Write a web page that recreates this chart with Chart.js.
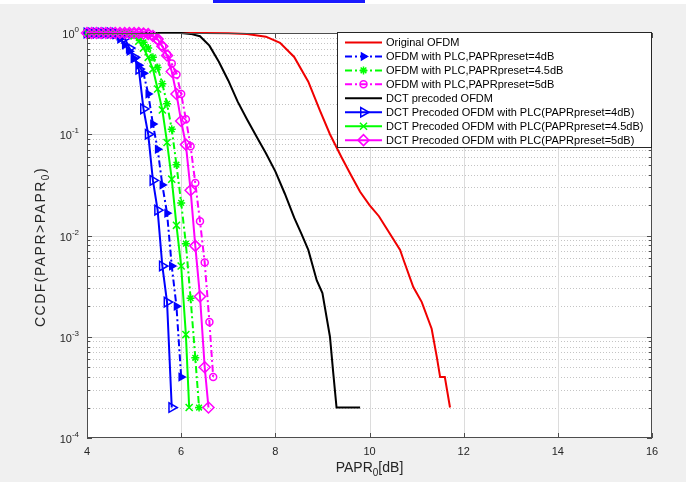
<!DOCTYPE html>
<html>
<head>
<meta charset="utf-8">
<script src="https://cdn.jsdelivr.net/npm/chart.js@4.4.1/dist/chart.umd.min.js"></script>
<style>
html, body { margin: 0; padding: 0; background: #f0f0f0; }
canvas { display: block; }
</style>
</head>
<body>
<canvas id="ccdfChart" width="686" height="482"></canvas>
<script>
// values (PAPR0 in dB, CCDF)
var origX = [4, 6.5, 7.0, 7.4, 7.8, 8.1, 8.4, 8.7, 8.95, 9.16, 9.4, 9.6, 9.8, 10.0, 10.2, 10.4, 10.65, 10.72, 10.93, 11.11, 11.32, 11.43, 11.5, 11.6, 11.71];
var origY = [1, 1, 0.995, 0.98, 0.92, 0.8, 0.58, 0.33, 0.17, 0.1, 0.06, 0.04, 0.027, 0.02, 0.0155, 0.011, 0.0072, 0.0058, 0.0031, 0.0022, 0.0012, 0.00063, 0.0004, 0.0004, 0.0002];

var dctX = [4, 5.8, 6.0, 6.2, 6.4, 6.6, 6.8, 7.0, 7.2, 7.4, 7.6, 7.8, 8.0, 8.2, 8.4, 8.55, 8.7, 8.88, 9.0, 9.16, 9.23, 9.3, 9.8];
var dctY = [1, 1, 0.998, 0.98, 0.93, 0.75, 0.52, 0.34, 0.21, 0.14, 0.095, 0.065, 0.043, 0.026, 0.015, 0.0105, 0.0072, 0.0036, 0.0027, 0.001, 0.00044, 0.0002, 0.0002];

var plc4X = [4.0, 4.1, 4.2, 4.3, 4.4, 4.5, 4.6, 4.7, 4.8, 4.9, 5.0, 5.1, 5.2, 5.3, 5.4, 5.5, 5.6, 5.7, 5.8, 5.9, 6.0];
var plc4Y = [1, 1, 1, 1, 1, 1, 0.955, 0.87, 0.76, 0.66, 0.56, 0.48, 0.4, 0.25, 0.126, 0.071, 0.0316, 0.0166, 0.005, 0.002, 0.0004];

var plc45X = [4.0, 4.1, 4.2, 4.3, 4.4, 4.5, 4.6, 4.7, 4.8, 4.9, 5.0, 5.1, 5.2, 5.3, 5.4, 5.5, 5.6, 5.7, 5.8, 5.9, 6.0, 6.1, 6.2, 6.3, 6.38];
var plc45Y = [1, 1, 1, 1, 1, 1, 1, 1, 1, 1, 0.955, 0.89, 0.81, 0.71, 0.575, 0.457, 0.316, 0.2, 0.112, 0.05, 0.021, 0.0083, 0.0024, 0.00062, 0.0002];

var plc5X = [4.0, 4.1, 4.2, 4.3, 4.4, 4.5, 4.6, 4.7, 4.8, 4.9, 5.0, 5.1, 5.2, 5.3, 5.4, 5.5, 5.6, 5.7, 5.8, 5.9, 6.0, 6.1, 6.2, 6.3, 6.4, 6.5, 6.6, 6.68];
var plc5Y = [1, 1, 1, 1, 1, 1, 1, 1, 1, 1, 1, 1, 1, 0.977, 0.933, 0.85, 0.74, 0.617, 0.5, 0.39, 0.25, 0.141, 0.076, 0.033, 0.0138, 0.0054, 0.0014, 0.0004];

var dctPlc4X = [4.0, 4.1, 4.2, 4.3, 4.4, 4.5, 4.6, 4.7, 4.8, 4.9, 5.0, 5.1, 5.2, 5.3, 5.4, 5.5, 5.6, 5.7, 5.8];
var dctPlc4Y = [1, 1, 1, 1, 1, 1, 1, 0.96, 0.89, 0.71, 0.575, 0.44, 0.178, 0.1, 0.035, 0.0178, 0.005, 0.0022, 0.0002];

var dctPlc45X = [4.0, 4.1, 4.2, 4.3, 4.4, 4.5, 4.6, 4.7, 4.8, 4.9, 5.0, 5.1, 5.2, 5.3, 5.4, 5.5, 5.6, 5.7, 5.8, 5.9, 6.0, 6.1, 6.17];
var dctPlc45Y = [1, 1, 1, 1, 1, 1, 1, 1, 1, 0.977, 0.933, 0.83, 0.71, 0.575, 0.44, 0.28, 0.174, 0.083, 0.036, 0.0126, 0.005, 0.00105, 0.0002];

var dctPlc5X = [4.0, 4.1, 4.2, 4.3, 4.4, 4.5, 4.6, 4.7, 4.8, 4.9, 5.0, 5.1, 5.2, 5.3, 5.4, 5.5, 5.6, 5.7, 5.8, 5.9, 6.0, 6.1, 6.2, 6.3, 6.4, 6.5, 6.58];
var dctPlc5Y = [1, 1, 1, 1, 1, 1, 1, 1, 1, 1, 1, 1, 0.99, 0.977, 0.933, 0.87, 0.74, 0.6, 0.417, 0.25, 0.135, 0.079, 0.028, 0.0079, 0.0025, 0.0005, 0.0002];

var legendLabels = [
    'Original OFDM',
    'OFDM with PLC,PAPRpreset=4dB',
    'OFDM with PLC,PAPRpreset=4.5dB',
    'OFDM with PLC,PAPRpreset=5dB',
    'DCT precoded OFDM',
    'DCT Precoded OFDM with PLC(PAPRpreset=4dB)',
    'DCT Precoded OFDM with PLC(PAPRpreset=4.5dB)',
    'DCT Precoded OFDM with PLC(PAPRpreset=5dB)'
];

var dashDot = [7, 3, 2, 3];

toPoints = function (xs, ys) {
    var pts = [];
    for (var i = 0; i < xs.length; i++) {
        pts.push({x: xs[i], y: ys[i]});
    }
    return pts;
}

makeSeries = function (idx, xs, ys, color, dash, marker, radius, filled) {
    return {
        label: legendLabels[idx],
        data: toPoints(xs, ys),
        borderColor: color,
        borderWidth: 2,
        borderDash: dash,
        pointStyle: marker,
        pointRadius: marker ? radius : 0,
        pointRotation: marker === 'triangle' ? 90 : 0,
        pointBorderColor: color,
        pointBackgroundColor: filled ? color : 'rgba(0,0,0,0)',
        pointBorderWidth: 1.5,
        tension: 0,
        clip: false,
        order: 7 - idx
    };
}

var datasets = [
    makeSeries(0, origX, origY, '#f00000', [], false, 0, false),
    makeSeries(1, plc4X, plc4Y, '#0000ff', dashDot, 'triangle', 4, true),
    makeSeries(2, plc45X, plc45Y, '#00ff00', dashDot, 'star', 4, false),
    makeSeries(3, plc5X, plc5Y, '#ff00ff', dashDot, 'circle', 3.5, false),
    makeSeries(4, dctX, dctY, '#000000', [], false, 0, false),
    makeSeries(5, dctPlc4X, dctPlc4Y, '#0000ff', [], 'triangle', 5.5, false),
    makeSeries(6, dctPlc45X, dctPlc45Y, '#00ff00', [], 'crossRot', 5, false),
    makeSeries(7, dctPlc5X, dctPlc5Y, '#ff00ff', [], 'rectRot', 5.5, false)
];

var textColor = '#262626';

// draws the figure look: background, grid, box, ticks, labels, legend
var matlabAxes = {
    id: 'matlabAxes',
    beforeDraw: function (chart) {
        var ctx = chart.ctx, a = chart.chartArea;
        ctx.save();
        ctx.fillStyle = '#f0f0f0';
        ctx.fillRect(0, 0, chart.width, chart.height);
        ctx.fillStyle = '#ffffff';
        ctx.fillRect(0, 0, chart.width, 4);
        ctx.fillStyle = '#1a1aff';
        ctx.fillRect(213, 0, 152, 3);
        ctx.fillStyle = '#ffffff';
        ctx.fillRect(a.left, a.top, a.right - a.left, a.bottom - a.top);
        ctx.restore();
    },
    beforeDatasetsDraw: function (chart) {
        var ctx = chart.ctx, a = chart.chartArea;
        var xs = chart.scales.x, ys = chart.scales.y;
        ctx.save();
        ctx.lineWidth = 1;
        // minor y grid, dotted
        ctx.strokeStyle = '#c4c4c4';
        ctx.setLineDash([1, 2]);
        for (var e = -4; e < 0; e++) {
            for (var m = 2; m <= 9; m++) {
                var py = Math.round(ys.getPixelForValue(m * Math.pow(10, e))) + 0.5;
                ctx.beginPath();
                ctx.moveTo(a.left, py);
                ctx.lineTo(a.right, py);
                ctx.stroke();
            }
        }
        // major grid, solid
        ctx.setLineDash([]);
        ctx.strokeStyle = '#dcdcdc';
        for (var e = -3; e < 0; e++) {
            var py = Math.round(ys.getPixelForValue(Math.pow(10, e))) + 0.5;
            ctx.beginPath();
            ctx.moveTo(a.left, py);
            ctx.lineTo(a.right, py);
            ctx.stroke();
        }
        xs.ticks.forEach(function (t) {
            if (t.value <= xs.min || t.value >= xs.max) return;
            var px = Math.round(xs.getPixelForValue(t.value)) + 0.5;
            ctx.beginPath();
            ctx.moveTo(px, a.top);
            ctx.lineTo(px, a.bottom);
            ctx.stroke();
        });
        ctx.restore();
    },
    afterDatasetsDraw: function (chart) {
        var ctx = chart.ctx, a = chart.chartArea;
        var xs = chart.scales.x, ys = chart.scales.y;
        ctx.save();
        ctx.strokeStyle = '#4d4d4d';
        ctx.lineWidth = 1;
        ctx.strokeRect(a.left + 0.5, a.top + 0.5, a.right - a.left - 1, a.bottom - a.top - 1);

        // tick marks inside the box
        ctx.beginPath();
        xs.ticks.forEach(function (t) {
            var px = Math.round(xs.getPixelForValue(t.value)) + 0.5;
            ctx.moveTo(px, a.bottom);
            ctx.lineTo(px, a.bottom - 5);
            ctx.moveTo(px, a.top);
            ctx.lineTo(px, a.top + 5);
        });
        for (var e = -4; e <= 0; e++) {
            for (var m = 1; m <= 9; m++) {
                if (e === 0 && m > 1) break;
                var py = Math.round(ys.getPixelForValue(m * Math.pow(10, e))) + 0.5;
                var len = m === 1 ? 5 : 3;
                ctx.moveTo(a.left, py);
                ctx.lineTo(a.left + len, py);
                ctx.moveTo(a.right, py);
                ctx.lineTo(a.right - len, py);
            }
        }
        ctx.stroke();

        // x tick labels
        ctx.fillStyle = textColor;
        ctx.font = '11px Arial';
        ctx.textAlign = 'center';
        ctx.textBaseline = 'middle';
        xs.ticks.forEach(function (t) {
            ctx.fillText(String(t.value), xs.getPixelForValue(t.value), a.bottom + 14);
        });

        // y tick labels 10^n
        ctx.textAlign = 'left';
        for (var e = -4; e <= 0; e++) {
            var py = ys.getPixelForValue(Math.pow(10, e));
            var ex = String(e);
            ctx.font = '8px Arial';
            var wExp = ctx.measureText(ex).width;
            ctx.font = '11px Arial';
            var wBase = ctx.measureText('10').width;
            var xr = a.left - 8;
            ctx.fillText('10', xr - wExp - wBase, py + 2);
            ctx.font = '8px Arial';
            ctx.fillText(ex, xr - wExp, py - 3);
        }

        // x title PAPR0[dB]
        ctx.font = '14px Arial';
        var w1 = ctx.measureText('PAPR').width;
        var w3 = ctx.measureText('[dB]').width;
        ctx.font = '10px Arial';
        var w2 = ctx.measureText('0').width;
        var cx = (a.left + a.right) / 2;
        var x0 = cx - (w1 + w2 + w3) / 2;
        var by = 472;
        ctx.textBaseline = 'alphabetic';
        ctx.font = '14px Arial';
        ctx.fillText('PAPR', x0, by);
        ctx.fillText('[dB]', x0 + w1 + w2, by);
        ctx.font = '10px Arial';
        ctx.fillText('0', x0 + w1, by + 4);

        // y title CCDF(PAPR>PAPR0)
        ctx.save();
        ctx.translate(45, 247);
        ctx.rotate(-Math.PI / 2);
        ctx.font = '14px Arial';
        ctx.letterSpacing = '1.5px';
        var t1 = 'CCDF(PAPR>PAPR', t3 = ')';
        var v1 = ctx.measureText(t1).width;
        var v3 = ctx.measureText(t3).width;
        ctx.font = '10px Arial';
        var v2 = ctx.measureText('0').width;
        var y0 = -(v1 + v2 + v3) / 2;
        ctx.font = '14px Arial';
        ctx.fillText(t1, y0, 0);
        ctx.fillText(t3, y0 + v1 + v2, 0);
        ctx.font = '10px Arial';
        ctx.fillText('0', y0 + v1, 4);
        ctx.restore();

        ctx.restore();
    },
    afterDraw: function (chart) {
        var ctx = chart.ctx;
        var bx = 337.5, by = 32.5, bw = 314, bh = 115;
        ctx.save();
        ctx.fillStyle = '#ffffff';
        ctx.fillRect(bx, by, bw, bh);
        ctx.strokeStyle = '#262626';
        ctx.lineWidth = 1;
        ctx.strokeRect(bx, by, bw, bh);
        ctx.font = '11px Arial';
        ctx.textBaseline = 'middle';
        ctx.textAlign = 'left';
        chart.data.datasets.forEach(function (ds, i) {
            var y = 42.5 + i * 13.95;
            ctx.strokeStyle = ds.borderColor;
            ctx.lineWidth = 2;
            ctx.setLineDash(ds.borderDash);
            ctx.beginPath();
            ctx.moveTo(345, y);
            ctx.lineTo(382, y);
            ctx.stroke();
            ctx.setLineDash([]);
            if (ds.pointRadius > 0) {
                ctx.lineWidth = ds.pointBorderWidth;
                ctx.fillStyle = ds.pointBackgroundColor;
                Chart.helpers.drawPoint(ctx, {
                    pointStyle: ds.pointStyle,
                    rotation: ds.pointRotation,
                    radius: ds.pointRadius,
                    borderWidth: ds.pointBorderWidth
                }, 363.5, y);
            }
            ctx.fillStyle = '#000000';
            ctx.fillText(ds.label, 386, y + 0.5);
        });
        ctx.restore();
    }
};

var ctx = document.getElementById('ccdfChart');
var ccdfChart = new Chart(ctx, {
    type: 'line',
    data: { datasets: datasets },
    options: {
        responsive: false,
        animation: false,
        devicePixelRatio: 1,
        events: [],
        layout: { padding: { top: 33, right: 34, left: 0, bottom: 0 } },
        plugins: { legend: { display: false }, tooltip: { enabled: false } },
        scales: {
            x: {
                type: 'linear', min: 4, max: 16,
                ticks: { stepSize: 2, display: false },
                grid: { display: false }, border: { display: false },
                afterFit: function (s) { s.height = 44; }
            },
            y: {
                type: 'logarithmic', min: 0.0001, max: 1,
                ticks: { display: false },
                grid: { display: false }, border: { display: false },
                afterFit: function (s) { s.width = 87; }
            }
        }
    },
    plugins: [matlabAxes]
});
</script>
</body>
</html>
